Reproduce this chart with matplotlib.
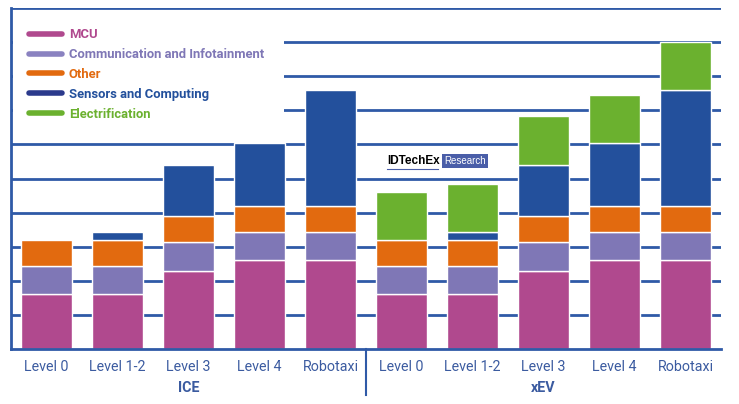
import matplotlib.pyplot as plt
from matplotlib.lines import Line2D
from matplotlib.patches import Rectangle
import numpy as np

# -------------------------
# Datos
# -------------------------
categories = ["Level 0", "Level 1-2", "Level 3", "Level 4", "Robotaxi",
              "Level 0", "Level 1-2", "Level 3", "Level 4", "Robotaxi"]
groups = ["ICE", "xEV"]

mcu = [1.6, 1.6, 2.3, 2.6, 2.6, 1.6, 1.6, 2.3, 2.6, 2.6]
comm = [0.84, 0.84, 0.84, 0.84, 0.84, 0.84, 0.84, 0.84, 0.84, 0.84]
other = [0.76, 0.76, 0.75, 0.75, 0.75, 0.76, 0.76, 0.75, 0.75, 0.75]
sensors = [0.0, 0.22, 1.5, 1.84, 3.4, 0.0, 0.22, 1.5, 1.84, 3.4]
electrif = [0.0, 0.0, 0.0, 0.0, 0.0, 1.4, 1.43, 1.43, 1.42, 1.42]

series = [
    ("MCU", mcu, "#B0498E"),
    ("Communication and Infotainment", comm, "#7F77B6"),
    ("Other", other, "#E26A0F"),
    ("Sensors and Computing", sensors, "#23509C"),
    ("Electrification", electrif, "#6BB12F"),
]
legend_line_colors = ["#B0498E", "#8A82C0", "#E26A0F", "#2B3A8C", "#6BB12F"]

grid_color = "#2F5AA7"
text_color = "#3B5BA0"

plt.rcParams["font.family"] = ["Roboto", "DejaVu Sans"]

fig = plt.figure(figsize=(7.39, 4.04), dpi=100)
ax = fig.add_axes([11 / 739, 55 / 404, 710 / 739, 341 / 404])

x = np.arange(len(categories))
bottom = np.zeros(len(categories))
for name, vals, color in series:
    vals = np.array(vals)
    mask = vals > 0
    ax.bar(x[mask], vals[mask], bottom=bottom[mask], width=0.72, color=color,
           edgecolor="white", linewidth=1, zorder=3)
    bottom += vals

ax.set_xlim(-0.5, 9.5)
ax.set_ylim(0, 10)

# lineas horizontales
for yv in range(1, 11):
    ax.axhline(yv, color=grid_color, lw=2, zorder=1)

for side in ["top", "right"]:
    ax.spines[side].set_visible(False)
ax.spines["left"].set_color(grid_color)
ax.spines["left"].set_linewidth(2)
ax.spines["bottom"].set_color(grid_color)
ax.spines["bottom"].set_linewidth(2)
ax.spines["bottom"].set_zorder(4)

ax.set_yticks([])
ax.set_xticks(x)
ax.set_xticklabels(categories, fontsize=10.3, color=text_color)
ax.tick_params(axis="x", length=0, pad=8)

# etiquetas de grupo
for i, g in enumerate(groups):
    ax.text(2 + 5 * i, -0.95, g, ha="center", va="top", fontsize=10.3,
            fontweight="bold", color=text_color, transform=ax.transData)

ax.axvline(4.5, ymin=-0.135, ymax=0, color=grid_color, lw=1.5, clip_on=False)

# fondo blanco de la leyenda
ax.add_patch(Rectangle((0.003, 0.615), 0.382, 0.375, transform=ax.transAxes,
                       facecolor="white", edgecolor="none", zorder=2))

handles = [Line2D([0], [0], color=c, lw=4, solid_capstyle="round")
           for c in legend_line_colors]
leg = ax.legend(handles, [s[0] for s in series], loc="upper left",
                bbox_to_anchor=(0.026, 0.94), frameon=False,
                handlelength=2.5, handletextpad=0.5, labelspacing=0.52,
                borderaxespad=0, borderpad=0,
                prop={"weight": "semibold", "size": 9.4})
leg.set_zorder(5)
for txt, (_, _, c) in zip(leg.get_texts(), series):
    txt.set_color(c)

# marca de agua
fig.text(387 / 739, 1 - 161 / 404, "IDTechEx", fontsize=8.5, color="black",
         va="center", ha="left", family=["Liberation Sans", "DejaVu Sans"],
         fontweight="bold")
fig.add_artist(Line2D([387 / 739, 438 / 739], [1 - 169 / 404, 1 - 169 / 404],
                      color="#4A5EA8", lw=0.8))
fig.text(444 / 739, 1 - 161 / 404, "Research", fontsize=7, color="white",
         va="center", ha="left", family=["Liberation Sans", "DejaVu Sans"],
         bbox=dict(boxstyle="square,pad=0.25", facecolor="#4A5EA8",
                   edgecolor="none"))

fig.savefig("out.png", dpi=100)
